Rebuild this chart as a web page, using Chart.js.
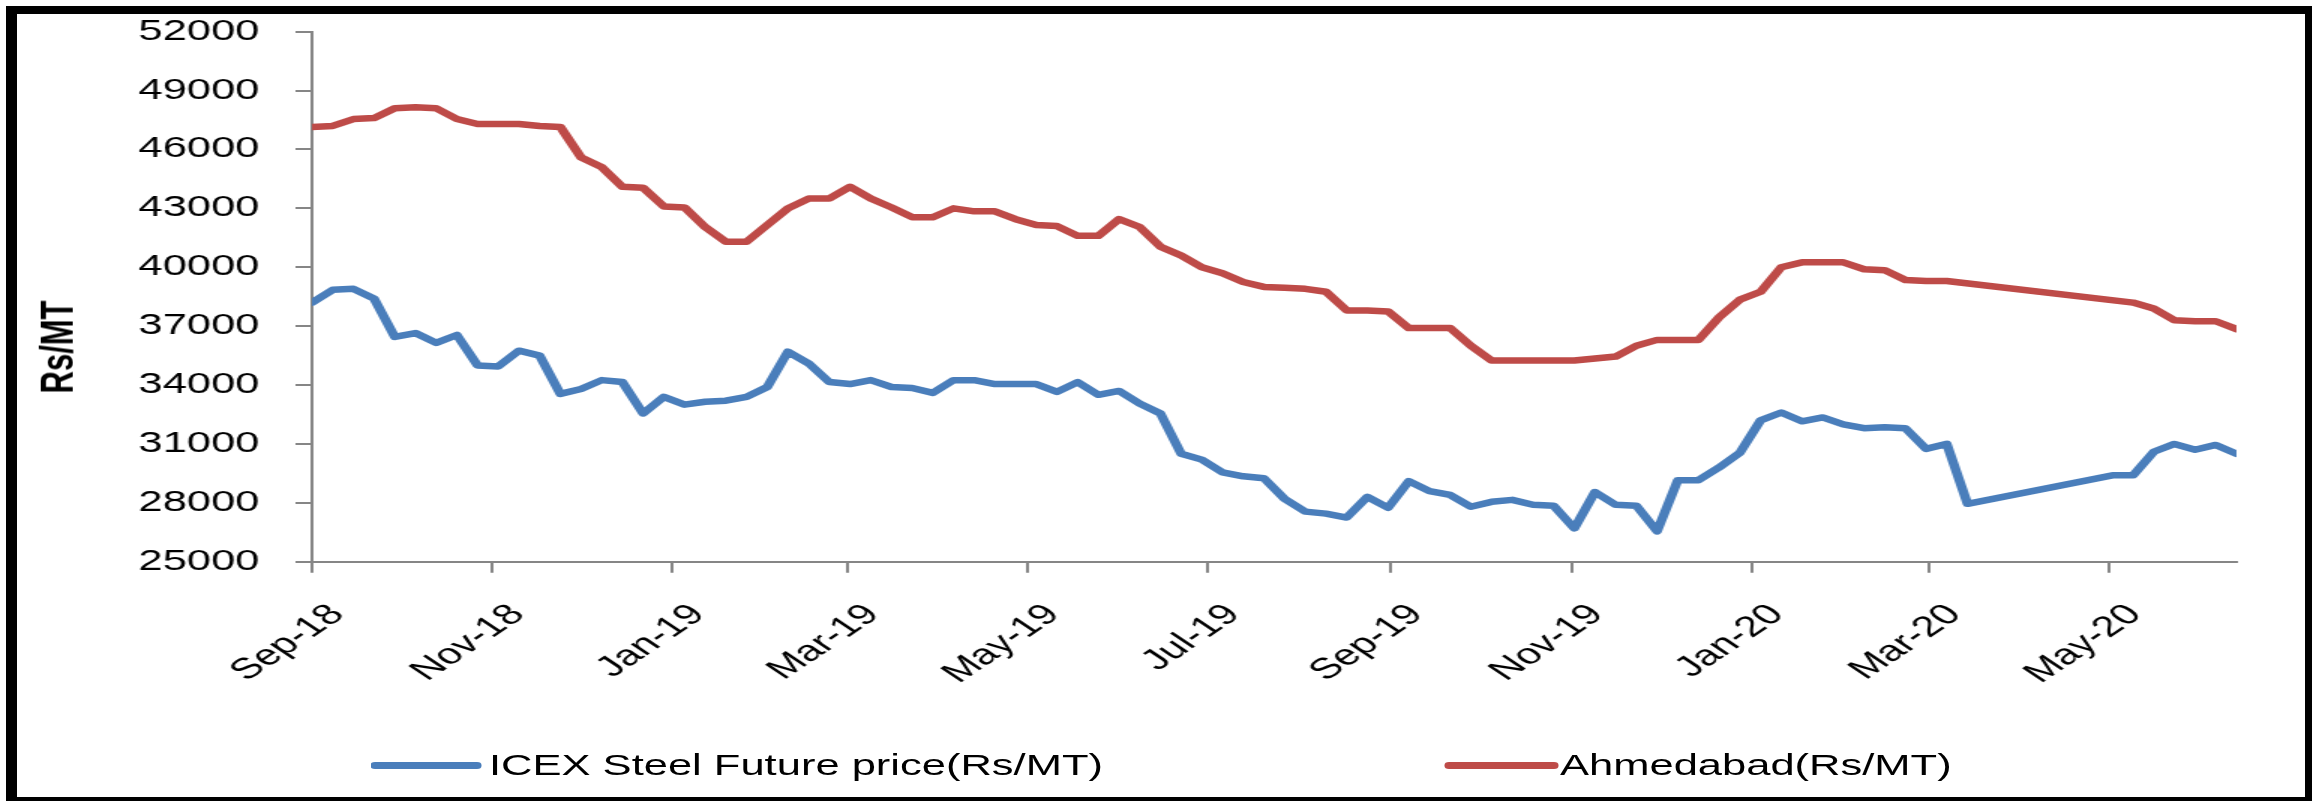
<!DOCTYPE html>
<html>
<head>
<meta charset="utf-8">
<title>ICEX Steel vs Ahmedabad</title>
<script src="https://cdn.jsdelivr.net/npm/chart.js@4.4.1/dist/chart.umd.min.js"></script>
<style>
  html, body { margin: 0; padding: 0; background: #fff; overflow: hidden; }
  body { width: 2312px; height: 801px; position: relative; font-family: "Liberation Sans", Arial, sans-serif; }
  /* the source picture is stretched sideways, so the whole chart is drawn narrow and widened */
  #stage { position: absolute; left: 0; top: 0; width: 1542px; height: 801px; transform: scaleX(1.5); transform-origin: 0 0; }
  #chart { position: absolute; left: 0; top: 0; }
  #ytitle { position: absolute; left: 38px; top: 347px; font-weight: bold; font-size: 31px; line-height: 31px;
            white-space: nowrap; transform: translate(-50%, -50%) rotate(-90deg); }
  .swatch { position: absolute; height: 7px; top: 762px; border-radius: 3px; }
  .ltext { position: absolute; top: 751px; font-size: 29px; line-height: 29px; white-space: nowrap; color: #000; }
  #frame { position: absolute; left: 6px; top: 6px; width: 2307px; height: 799px; box-sizing: border-box;
           border: 8px solid #000; border-left-width: 11px; }
</style>
</head>
<body>
<div id="stage">
  <canvas id="chart" width="1542" height="801"></canvas>
  <div id="ytitle">Rs/MT</div>
  <div class="swatch" style="left:247px;width:74px;background:#4A7EBB"></div>
  <div class="ltext" style="left:326px">ICEX Steel Future price(Rs/MT)</div>
  <div class="swatch" style="left:963px;width:76px;background:#BE4B48"></div>
  <div class="ltext" style="left:1040px">Ahmedabad(Rs/MT)</div>
</div>
<div id="frame"></div>
<script>
// weekly observations
const weekDates = [
  '2018-09-01','2018-09-08','2018-09-15','2018-09-22','2018-09-29','2018-10-06','2018-10-13','2018-10-20',
  '2018-10-27','2018-11-03','2018-11-10','2018-11-17','2018-11-24','2018-12-01','2018-12-08','2018-12-15',
  '2018-12-22','2018-12-29','2019-01-05','2019-01-12','2019-01-19','2019-01-26','2019-02-02','2019-02-09',
  '2019-02-16','2019-02-23','2019-03-02','2019-03-09','2019-03-16','2019-03-23','2019-03-30','2019-04-06',
  '2019-04-13','2019-04-20','2019-04-27','2019-05-04','2019-05-11','2019-05-18','2019-05-25','2019-06-01',
  '2019-06-08','2019-06-15','2019-06-22','2019-06-29','2019-07-06','2019-07-13','2019-07-20','2019-07-27',
  '2019-08-03','2019-08-10','2019-08-17','2019-08-24','2019-08-31','2019-09-07','2019-09-14','2019-09-21',
  '2019-09-28','2019-10-05','2019-10-12','2019-10-19','2019-10-26','2019-11-02','2019-11-09','2019-11-16',
  '2019-11-23','2019-11-30','2019-12-07','2019-12-14','2019-12-21','2019-12-28','2020-01-04','2020-01-11',
  '2020-01-18','2020-01-25','2020-02-01','2020-02-08','2020-02-15','2020-02-22','2020-02-29','2020-03-07',
  '2020-03-14','2020-03-21','2020-03-28','2020-04-04','2020-04-11','2020-04-18','2020-04-25','2020-05-02',
  '2020-05-09','2020-05-16','2020-05-23','2020-05-30','2020-06-06','2020-06-13'
];

const icexPrice = [
  38200, 38850, 38900, 38400, 36450, 36650, 36150, 36550, 35000, 34950,
  35750, 35500, 33550, 33800, 34250, 34150, 32550, 33400, 33000, 33150,
  33200, 33400, 33900, 35700, 35100, 34150, 34050, 34250, 33900, 33850,
  33600, 34250, 34250, 34050, 34050, 34050, 33650, 34150, 33500, 33700,
  33050, 32550, 30500, 30200, 29550, 29350, 29250, 28200, 27550, 27450,
  27250, 28300, 27750, 29100, 28600, 28400, 27800, 28050, 28150, 27900,
  27850, 26700, 28550, 27900, 27850, 26550, 29150, 29150, 29800, 30550,
  32200, 32600, 32150, 32350, 32000, 31800, 31850, 31800, 30750, 31000,
  27950, null, null, null, null, null, null, 29400, 29400, 30600,
  31000, 30700, 30950, 30500
];

const ahmedabadPrice = [
  47150, 47200, 47550, 47600, 48100, 48150, 48100, 47550, 47300, 47300,
  47300, 47200, 47150, 45600, 45100, 44100, 44050, 43100, 43050, 42050,
  41300, 41300, 42150, 43000, 43500, 43500, 44100, 43500, 43050, 42550,
  42550, 43000, 42850, 42850, 42450, 42150, 42100, 41600, 41600, 42450,
  42050, 41050, 40600, 40000, 39700, 39250, 39000, 38950, 38900, 38750,
  37800, 37800, 37750, 36900, 36900, 36900, 36000, 35250, 35250, 35250,
  35250, 35250, 35350, 35450, 36000, 36300, 36300, 36300, 37450, 38350,
  38750, 40000, 40250, 40250, 40250, 39900, 39850, 39350, 39300, 39300,
  null, null, null, null, null, null, null, null, 38200, 37900,
  37300, 37250, 37250, 36850
];

const tickDates = ['2018-09-01','2018-11-01','2019-01-01','2019-03-01','2019-05-01','2019-07-01',
                   '2019-09-01','2019-11-01','2020-01-01','2020-03-01','2020-05-01'];
const tickLabels = ['Sep-18','Nov-18','Jan-19','Mar-19','May-19','Jul-19',
                    'Sep-19','Nov-19','Jan-20','Mar-20','May-20'];

const yMin = 25000, yMax = 52000, yStep = 3000;

// days since the first observation
function dayOf(s) {
  const p = s.split('-').map(Number);
  const b = weekDates[0].split('-').map(Number);
  return (Date.UTC(p[0], p[1] - 1, p[2]) - Date.UTC(b[0], b[1] - 1, b[2])) / 86400000;
}

function points(values) {
  return weekDates.map((d, i) => ({ x: dayOf(d), y: values[i] }));
}

Chart.defaults.font.family = '"Liberation Sans", Arial, sans-serif';
Chart.defaults.color = '#000';

const axisGrey = '#868686';

new Chart(document.getElementById('chart'), {
  type: 'line',
  data: {
    datasets: [
      {
        label: 'ICEX Steel Future price(Rs/MT)',
        data: points(icexPrice),
        borderColor: '#4A7EBB',
        borderWidth: 6.5,
        pointRadius: 0,
        tension: 0,
        spanGaps: true,
        borderJoinStyle: 'round',
        borderCapStyle: 'round'
      },
      {
        label: 'Ahmedabad(Rs/MT)',
        data: points(ahmedabadPrice),
        borderColor: '#BE4B48',
        borderWidth: 6.5,
        pointRadius: 0,
        tension: 0,
        spanGaps: true,
        borderJoinStyle: 'round',
        borderCapStyle: 'round'
      }
    ]
  },
  options: {
    responsive: false,
    animation: false,
    layout: { padding: { left: 0, top: 31.7, right: 51, bottom: 0 } },
    plugins: {
      legend: { display: false },
      tooltip: { enabled: false }
    },
    scales: {
      x: {
        type: 'linear',
        min: 0,
        max: dayOf(weekDates[weekDates.length - 1]),
        afterBuildTicks: scale => { scale.ticks = tickDates.map(d => ({ value: dayOf(d) })); },
        afterFit: scale => { scale.height = 239.3; },
        ticks: {
          autoSkip: false,
          minRotation: 45,
          maxRotation: 45,
          padding: 25,
          labelOffset: 17,
          font: { size: 29 },
          callback: (v, i) => tickLabels[i]
        },
        grid: { drawOnChartArea: false, drawTicks: true, tickLength: 11, color: axisGrey, lineWidth: 2 },
        border: { color: axisGrey, width: 2 }
      },
      y: {
        min: yMin,
        max: yMax,
        afterFit: scale => {
          scale.width = 208;
          // labels may overhang the plot; keep the plot top where the source has it
          scale.paddingTop = 16;
          scale.paddingBottom = 16;
        },
        ticks: {
          stepSize: yStep,
          padding: 24,
          font: { size: 29 },
          callback: v => String(v)
        },
        grid: { drawOnChartArea: false, drawTicks: true, tickLength: 11, color: axisGrey, lineWidth: 2 },
        border: { color: axisGrey, width: 2 }
      }
    }
  }
});
</script>
</body>
</html>
